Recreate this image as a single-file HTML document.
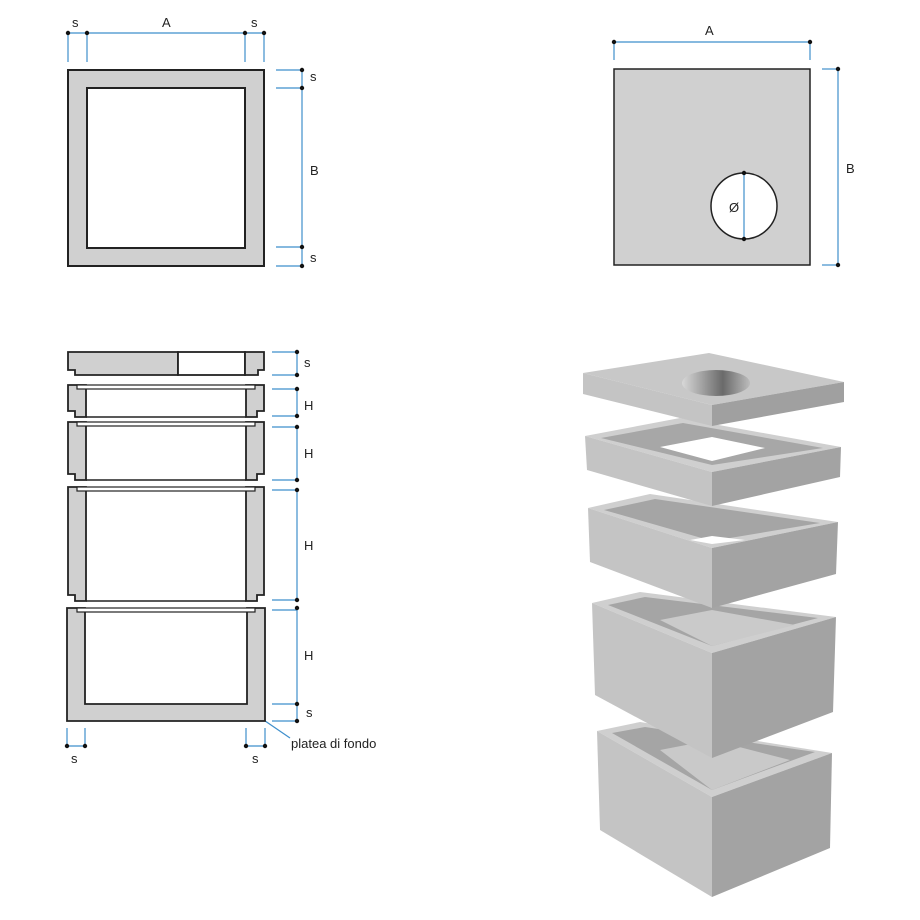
<!DOCTYPE html>
<html><head><meta charset="utf-8"><style>
html,body{margin:0;padding:0;background:#fff}
svg{display:block}
text{font-family:"Liberation Sans",sans-serif;fill:#222}
</style></head><body>
<svg width="920" height="920" viewBox="0 0 920 920" xmlns="http://www.w3.org/2000/svg">
<defs>
<linearGradient id="hole" x1="0" x2="1" y1="0" y2="0">
<stop offset="0" stop-color="#d8d8d8"/><stop offset="0.6" stop-color="#6a6a6a"/><stop offset="1" stop-color="#bcbcbc"/>
</linearGradient>
</defs>
<g stroke="#3f8fcc" stroke-width="1.2" fill="none">
<line x1="68" y1="33" x2="264" y2="33"/>
<line x1="68" y1="33" x2="68" y2="62"/><line x1="87" y1="33" x2="87" y2="62"/>
<line x1="245" y1="33" x2="245" y2="62"/><line x1="264" y1="33" x2="264" y2="62"/>
<line x1="302" y1="70" x2="302" y2="266"/>
<line x1="276" y1="70" x2="302" y2="70"/><line x1="276" y1="88" x2="302" y2="88"/>
<line x1="276" y1="247" x2="302" y2="247"/><line x1="276" y1="266" x2="302" y2="266"/>
<line x1="614" y1="42" x2="810" y2="42"/>
<line x1="614" y1="42" x2="614" y2="60"/><line x1="810" y1="42" x2="810" y2="60"/>
<line x1="838" y1="69" x2="838" y2="265"/>
<line x1="822" y1="69" x2="838" y2="69"/><line x1="822" y1="265" x2="838" y2="265"/>
<line x1="297" y1="352" x2="297" y2="375"/>
<line x1="297" y1="387" x2="297" y2="416"/>
<line x1="297" y1="425" x2="297" y2="480"/>
<line x1="297" y1="488" x2="297" y2="600"/>
<line x1="297" y1="608" x2="297" y2="721"/>
<line x1="272" y1="352" x2="297" y2="352"/><line x1="272" y1="375" x2="297" y2="375"/>
<line x1="272" y1="389" x2="297" y2="389"/><line x1="272" y1="416" x2="297" y2="416"/>
<line x1="272" y1="427" x2="297" y2="427"/><line x1="272" y1="480" x2="297" y2="480"/>
<line x1="272" y1="490" x2="297" y2="490"/><line x1="272" y1="600" x2="297" y2="600"/>
<line x1="272" y1="610" x2="297" y2="610"/><line x1="272" y1="704" x2="297" y2="704"/>
<line x1="272" y1="721" x2="297" y2="721"/>
<line x1="67" y1="728" x2="67" y2="746"/><line x1="85" y1="728" x2="85" y2="746"/>
<line x1="67" y1="746" x2="85" y2="746"/>
<line x1="246" y1="728" x2="246" y2="746"/><line x1="265" y1="728" x2="265" y2="746"/>
<line x1="246" y1="746" x2="265" y2="746"/>
<line x1="252" y1="712" x2="290" y2="738"/>
</g>
<g fill="#111">
<circle cx="68" cy="33" r="2.2"/><circle cx="87" cy="33" r="2.2"/><circle cx="245" cy="33" r="2.2"/><circle cx="264" cy="33" r="2.2"/>
<circle cx="302" cy="70" r="2.2"/><circle cx="302" cy="88" r="2.2"/><circle cx="302" cy="247" r="2.2"/><circle cx="302" cy="266" r="2.2"/>
<circle cx="614" cy="42" r="2.2"/><circle cx="810" cy="42" r="2.2"/>
<circle cx="838" cy="69" r="2.2"/><circle cx="838" cy="265" r="2.2"/>
<circle cx="297" cy="352" r="2.2"/><circle cx="297" cy="375" r="2.2"/>
<circle cx="297" cy="389" r="2.2"/><circle cx="297" cy="416" r="2.2"/>
<circle cx="297" cy="427" r="2.2"/><circle cx="297" cy="480" r="2.2"/>
<circle cx="297" cy="490" r="2.2"/><circle cx="297" cy="600" r="2.2"/>
<circle cx="297" cy="608" r="2.2"/><circle cx="297" cy="704" r="2.2"/><circle cx="297" cy="721" r="2.2"/>
<circle cx="67" cy="746" r="2.2"/><circle cx="85" cy="746" r="2.2"/><circle cx="246" cy="746" r="2.2"/><circle cx="265" cy="746" r="2.2"/>
</g>
<g font-size="13">
<text x="72" y="27">s</text><text x="162" y="27">A</text><text x="251" y="27">s</text>
<text x="310" y="81">s</text><text x="310" y="175">B</text><text x="310" y="262">s</text>
<text x="705" y="35">A</text><text x="846" y="173">B</text>
<text x="304" y="367">s</text><text x="304" y="410">H</text><text x="304" y="458">H</text>
<text x="304" y="550">H</text><text x="304" y="660">H</text><text x="306" y="717">s</text>
<text x="71" y="763">s</text><text x="252" y="763">s</text>
<text x="291" y="748">platea di fondo</text>
</g>
<path d="M68 70H264V266H68Z M87 88V248H245V88Z" fill="#d0d0d0" fill-rule="evenodd" stroke="#222" stroke-width="2"/>
<rect x="614" y="69" width="196" height="196" fill="#d0d0d0" stroke="#222" stroke-width="1.5"/>
<circle cx="744" cy="206" r="33" fill="#fff" stroke="#222" stroke-width="1.5"/>
<line x1="744" y1="173" x2="744" y2="239" stroke="#3f8fcc" stroke-width="1.2"/>
<circle cx="744" cy="173" r="2.2" fill="#111"/><circle cx="744" cy="239" r="2.2" fill="#111"/>
<text x="729" y="212" font-size="13">Ø</text>
<g stroke="#222" stroke-width="1.8" fill="#d0d0d0">
<path d="M68 352H178V375H75V370H68Z"/>
<rect x="178" y="352" width="67" height="23" fill="#fff"/>
<path d="M245 352H264V370H258V375H245Z"/>
<path d="M68 385H86V417H75V411H68Z M246 385H264V411H257V417H246Z" fill="#d0d0d0"/>
<rect x="77" y="385" width="178" height="4" fill="#fff" stroke-width="1.2"/>
<line x1="86" y1="417" x2="246" y2="417" stroke-width="1.4"/>
<path d="M68 422H86V480H75V474H68Z M246 422H264V474H257V480H246Z"/>
<rect x="77" y="422" width="178" height="4" fill="#fff" stroke-width="1.2"/>
<line x1="86" y1="480" x2="246" y2="480" stroke-width="1.4"/>
<path d="M68 487H86V601H75V595H68Z M246 487H264V595H257V601H246Z"/>
<rect x="77" y="487" width="178" height="4" fill="#fff" stroke-width="1.2"/>
<line x1="86" y1="601" x2="246" y2="601" stroke-width="1.4"/>
<path d="M67 608H85V704H247V608H265V721H67Z"/>
<rect x="77" y="608" width="178" height="4" fill="#fff" stroke-width="1.2"/>
</g>
<polygon points="597,731 640,722 832,753 712,797" fill="#cfcfcf"/>
<polygon points="612,733 645,727 815,752 712,790" fill="#a5a5a5"/>
<polygon points="660,750 712,740 790,760 712,790" fill="#c9c9c9"/>
<polygon points="597,731 712,797 712,897 600,830" fill="#c4c4c4"/>
<polygon points="712,797 832,753 830,848 712,897" fill="#a3a3a3"/>
<polygon points="592,603 640,592 836,617 712,653" fill="#cfcfcf"/>
<polygon points="608,605 645,597 818,618 712,646" fill="#a5a5a5"/>
<polygon points="660,620 712,610 795,625 712,646" fill="#cacaca"/>
<polygon points="592,603 712,653 712,758 595,695" fill="#c4c4c4"/>
<polygon points="712,653 836,617 833,712 712,758" fill="#a3a3a3"/>
<polygon points="588,508 650,494 838,522 712,548" fill="#cfcfcf"/>
<polygon points="604,510 655,499 820,523 712,541" fill="#a5a5a5"/>
<polygon points="690,540 712,536 745,540 712,544" fill="#fff"/>
<polygon points="588,508 712,548 712,608 590,562" fill="#c4c4c4"/>
<polygon points="712,548 838,522 836,574 712,608" fill="#a3a3a3"/>
<polygon points="585,436 680,418 841,447 712,472" fill="#cfcfcf"/>
<polygon points="601,438 683,423 823,448 712,465" fill="#a7a7a7"/>
<polygon points="660,447 712,437 765,448 712,461" fill="#fff"/>
<polygon points="585,436 712,472 712,506 587,470" fill="#c4c4c4"/>
<polygon points="712,472 841,447 840,477 712,506" fill="#a3a3a3"/>
<polygon points="583,373 709,353 844,382 712,405" fill="#c8c8c8"/>
<polygon points="583,373 712,405 712,426 583,394" fill="#c4c4c4"/>
<polygon points="712,405 844,382 844,402 712,426" fill="#a0a0a0"/>
<ellipse cx="716" cy="383" rx="34" ry="13" fill="url(#hole)"/>
</svg>
</body></html>
